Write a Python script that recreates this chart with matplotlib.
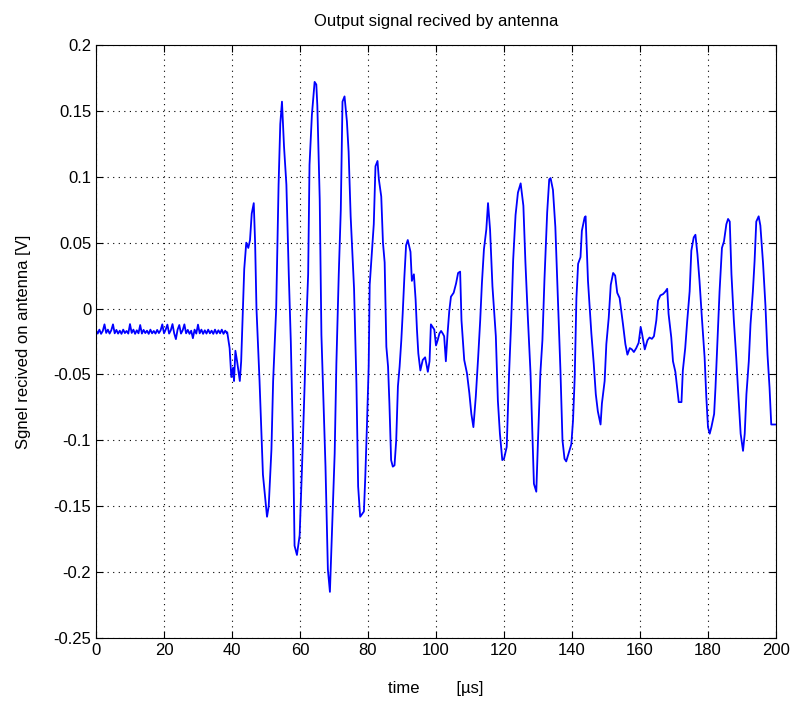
# antenna output signal, matlab-style plot
import numpy as np
import matplotlib

matplotlib.use("Agg")
import matplotlib.pyplot as plt

plt.rcParams["font.family"] = ["Liberation Sans", "DejaVu Sans"]

# quiet part before the burst, sampled every 0.5 us
base_dt = 0.5
base_v = [
    -0.0165, -0.0190, -0.0160, -0.0192, -0.0170, -0.0120, -0.0185, -0.0160, -0.0190, -0.0165,
    -0.0120, -0.0188, -0.0162, -0.0190, -0.0168, -0.0192, -0.0160, -0.0186, -0.0170, -0.0190,
    -0.0118, -0.0185, -0.0160, -0.0192, -0.0165, -0.0188, -0.0125, -0.0190, -0.0162, -0.0186,
    -0.0168, -0.0192, -0.0160, -0.0188, -0.0170, -0.0190, -0.0162, -0.0186, -0.0165, -0.0120,
    -0.0188, -0.0160, -0.0122, -0.0190, -0.0165, -0.0118, -0.0188, -0.0232, -0.0160, -0.0125,
    -0.0190, -0.0165, -0.0120, -0.0188, -0.0162, -0.0192, -0.0168, -0.0225, -0.0160, -0.0190,
    -0.0122, -0.0188, -0.0160, -0.0192, -0.0165, -0.0190, -0.0160, -0.0188, -0.0168, -0.0192,
    -0.0160, -0.0190, -0.0165, -0.0188, -0.0160, -0.0192, -0.0168, -0.0186,
]

# received burst (time in us, volts)
wave_t = [
    38.6, 39.3, 39.8, 40.3, 40.6, 41.0, 41.5, 42.3, 42.7, 43.2, 43.6, 44.2, 44.8, 45.3, 45.8,
    46.4, 46.8, 47.2, 48.1, 49.1, 50.3, 50.8, 51.6, 52.1, 53.0, 53.7, 54.2, 54.7, 55.3, 56.0,
    56.7, 57.3, 58.0, 58.4, 59.1, 59.9, 60.6, 61.4, 61.9, 62.4, 62.8, 63.5, 64.3, 64.8, 65.1,
    65.8, 66.3, 67.5, 68.2, 68.8, 69.4, 70.2, 70.7, 71.4, 72.0, 72.5, 73.1, 73.8, 74.3, 74.9,
    75.9, 76.6, 77.1, 77.7, 78.8, 79.2, 79.7, 80.2, 80.5, 81.2, 81.7, 82.2, 82.8, 83.2, 83.9,
    84.4, 84.9, 85.4, 85.9, 86.3, 86.8, 87.3, 87.8, 88.3, 88.8, 89.3, 89.8, 90.2, 90.7, 91.2,
    91.7, 92.5, 92.9, 93.5, 94.0, 94.4, 94.8, 95.4, 96.1, 96.8, 97.6, 98.1, 98.5, 99.5, 100.0,
    100.5, 101.0, 101.5, 102.0, 102.4, 102.9, 103.4, 103.9, 104.4, 105.2, 105.9, 106.5, 107.1,
    107.5, 108.3, 109.1, 109.8, 110.4, 111.0, 111.7, 112.4, 113.0, 113.5, 114.1, 114.8, 115.3,
    115.9, 116.6, 117.6, 118.2, 118.8, 119.5, 120.0, 120.8, 121.5, 122.1, 122.7, 123.4, 124.1,
    124.9, 125.7, 126.3, 127.0, 127.8, 128.4, 128.8, 129.5, 130.0, 130.7, 131.3, 131.9, 132.7,
    133.3, 133.7, 134.4, 135.1, 135.8, 136.6, 137.2, 137.8, 138.3, 139.0, 139.8, 140.3, 140.8,
    141.3, 141.8, 142.5, 142.9, 143.7, 144.0, 144.7, 145.7, 146.4, 147.0, 147.6, 148.4, 148.8,
    149.6, 150.1, 150.8, 151.4, 152.1, 152.7, 153.3, 154.0, 154.5, 155.0, 155.7, 156.3, 157.0,
    157.6, 158.2, 158.9, 159.6, 160.2, 160.6, 161.4, 162.2, 162.8, 163.5, 164.1, 164.8, 165.3,
    166.0, 166.8, 167.5, 168.0, 168.4, 169.2, 169.7, 170.4, 171.0, 171.4, 172.2, 172.6, 173.3,
    173.9, 174.6, 175.1, 175.8, 176.3, 176.9, 177.5, 178.2, 179.0, 179.5, 180.0, 180.5, 181.0,
    181.8, 182.2, 182.7, 183.4, 184.1, 184.7, 185.4, 185.9, 186.4, 186.9, 187.6, 188.3, 188.8,
    189.6, 190.3, 190.8, 191.3, 192.0, 192.5, 193.2, 193.7, 194.2, 194.9, 195.4, 196.2, 196.9,
    197.5, 198.1, 198.6, 200.0,
]
wave_v = [
    -0.018, -0.030, -0.052, -0.045, -0.055, -0.032, -0.040, -0.055, -0.040, 0.000, 0.030, 0.050,
    0.046, 0.052, 0.072, 0.080, 0.050, 0.000, -0.055, -0.126, -0.158, -0.150, -0.107, -0.055,
    0.000, 0.094, 0.140, 0.157, 0.123, 0.094, 0.026, -0.025, -0.107, -0.180, -0.187, -0.172,
    -0.120, -0.055, -0.009, 0.026, 0.109, 0.147, 0.172, 0.170, 0.154, 0.083, -0.020, -0.120,
    -0.198, -0.215, -0.169, -0.110, -0.042, 0.026, 0.075, 0.157, 0.161, 0.142, 0.119, 0.070,
    0.015, -0.057, -0.135, -0.158, -0.154, -0.128, -0.088, -0.044, 0.018, 0.045, 0.064, 0.108,
    0.112, 0.098, 0.085, 0.050, 0.035, -0.029, -0.044, -0.072, -0.115, -0.120, -0.119, -0.100,
    -0.059, -0.044, -0.024, -0.004, 0.024, 0.048, 0.052, 0.043, 0.021, 0.026, 0.007, -0.016,
    -0.034, -0.047, -0.039, -0.037, -0.048, -0.040, -0.012, -0.016, -0.028, -0.024, -0.019,
    -0.017, -0.019, -0.021, -0.040, -0.019, -0.002, 0.009, 0.012, 0.019, 0.027, 0.028, -0.009,
    -0.039, -0.049, -0.064, -0.080, -0.090, -0.067, -0.037, -0.009, 0.019, 0.045, 0.060, 0.080,
    0.060, 0.017, -0.021, -0.070, -0.095, -0.115, -0.114, -0.105, -0.049, -0.011, 0.037, 0.071,
    0.088, 0.095, 0.078, 0.035, -0.006, -0.049, -0.100, -0.133, -0.139, -0.100, -0.049, -0.024,
    0.022, 0.073, 0.098, 0.099, 0.090, 0.062, 0.012, -0.047, -0.100, -0.114, -0.116, -0.110,
    -0.103, -0.085, -0.052, 0.008, 0.034, 0.039, 0.059, 0.069, 0.070, 0.021, -0.019, -0.042,
    -0.065, -0.078, -0.088, -0.072, -0.055, -0.027, -0.007, 0.018, 0.027, 0.025, 0.012, 0.008,
    -0.002, -0.012, -0.027, -0.035, -0.030, -0.031, -0.033, -0.030, -0.026, -0.014, -0.019,
    -0.031, -0.024, -0.022, -0.023, -0.021, -0.009, 0.006, 0.010, 0.011, 0.013, 0.015, -0.004,
    -0.022, -0.040, -0.048, -0.062, -0.071, -0.071, -0.047, -0.030, -0.009, 0.013, 0.044, 0.054,
    0.056, 0.041, 0.021, -0.007, -0.037, -0.067, -0.090, -0.095, -0.090, -0.080, -0.060, -0.030,
    0.013, 0.046, 0.051, 0.064, 0.068, 0.066, 0.026, -0.009, -0.037, -0.060, -0.095, -0.108,
    -0.095, -0.065, -0.040, -0.012, 0.013, 0.036, 0.066, 0.070, 0.063, 0.034, 0.002, -0.035,
    -0.060, -0.088, -0.088,
]

base_t = np.arange(len(base_v)) * base_dt
t = np.concatenate([base_t, wave_t])
v = np.concatenate([base_v, wave_v])

fig = plt.figure(figsize=(7.92, 7.01), dpi=100)
ax = fig.add_axes([0.1212, 0.0899, 0.8586, 0.8459])
ax.plot(t, v, color="#0000ff", linewidth=1.3)

ax.set_xlim(0, 200)
ax.set_ylim(-0.25, 0.2)
ax.set_xticks(np.arange(0, 201, 20))
ax.set_yticks(np.arange(-0.25, 0.2001, 0.05))
ax.set_yticklabels(["-0.25", "-0.2", "-0.15", "-0.1", "-0.05", "0",
                    "0.05", "0.1", "0.15", "0.2"])
ax.grid(True, color="black", linestyle=(0, (1, 4)), linewidth=0.8)
ax.tick_params(direction="in", top=True, right=True, length=5, labelsize=12)
for s in ax.spines.values():
    s.set_linewidth(0.8)

ax.set_title("Output signal recived by antenna", fontsize=12, pad=14)
ax.set_xlabel("time        [\u00b5s]", fontsize=12, labelpad=17)
ax.set_ylabel("Sgnel recived on antenna [V]", fontsize=12, labelpad=16)

fig.savefig("out.png", dpi=100)
